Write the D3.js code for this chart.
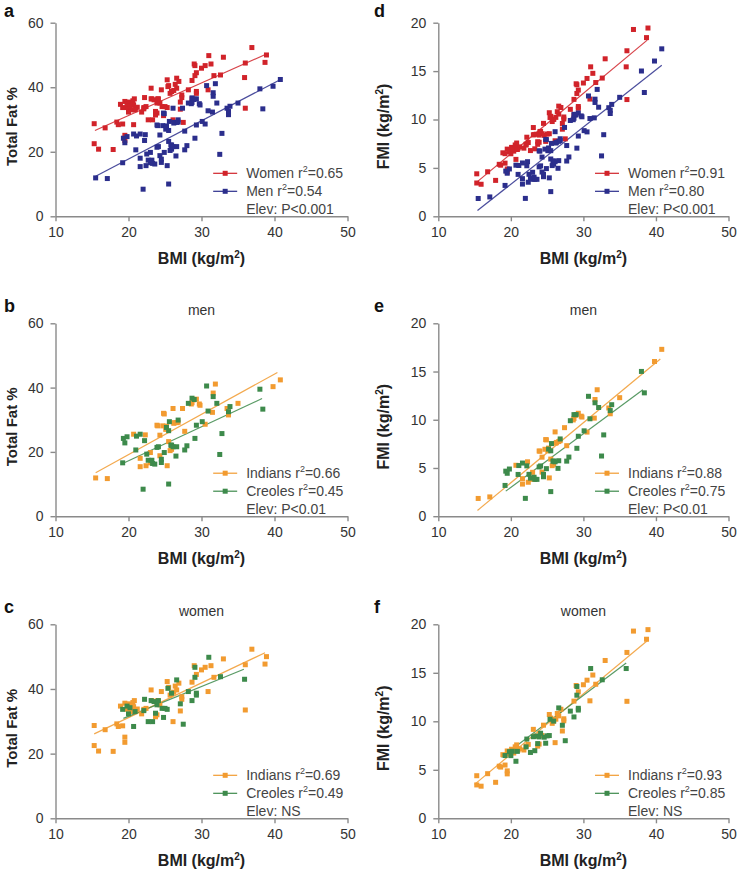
<!DOCTYPE html>
<html>
<head>
<meta charset="utf-8">
<script src="https://cdn.jsdelivr.net/npm/d3@7"></script>
<style>
body { margin: 0; background: #fff; }
text { font-family: "Liberation Sans", Arial, sans-serif; }
</style>
</head>
<body>
<svg id="chart" width="738" height="874"></svg>
<script>
// men, Indians
var menIndBMI = [15.5,17.1,20.7,21.6,21.6,22.3,22.4,23.0,23.0,23.9,24.0,24.3,24.3,24.7,24.8,24.9,25.1,25.2,25.3,25.5,25.7,25.9,26.1,26.2,26.3,26.6,26.8,27.4,27.7,28.6,28.7,28.9,29.3,29.7,29.8,30.5,31.5,31.6,31.9,33.5,33.7,35.0,39.8,40.8];
var menIndFat = [11.9,11.7,25.5,18.0,15.4,25.3,15.7,16.6,19.8,28.3,28.1,25.2,18.8,28.1,32.0,31.8,27.0,28.0,15.7,23.2,20.4,20.8,33.5,28.9,29.1,29.1,29.2,33.5,26.4,34.9,35.3,36.2,36.4,34.9,34.5,28.6,32.3,38.3,41.1,33.5,31.5,35.1,40.3,42.4];
var menIndFMI = [1.84,2.00,5.28,3.89,3.33,5.64,3.52,3.82,4.55,6.76,6.74,6.12,4.57,6.94,7.94,7.92,6.78,7.06,3.97,5.92,5.24,5.39,8.74,7.57,7.65,7.74,7.83,9.18,7.31,9.98,10.13,10.46,10.67,10.37,10.28,8.72,10.17,12.10,13.11,11.22,10.62,12.29,16.04,17.30];
// men, Creoles
var menCreBMI = [19.2,19.3,19.5,19.8,21.0,21.1,21.6,22.0,22.2,22.5,22.7,23.2,23.3,23.6,23.9,24.1,24.5,24.5,24.9,25.2,25.5,25.5,25.6,25.8,25.9,26.1,26.5,26.6,26.8,27.7,28.0,28.2,28.7,29.0,29.1,29.3,30.1,30.7,30.9,31.6,32.1,32.8,32.5,33.7,33.9,38.0,38.4];
var menCreFat = [16.6,24.2,22.8,24.7,20.6,24.9,25.5,8.4,23.5,19.3,17.4,17.4,16.4,16.2,21.4,21.6,16.7,17.7,19.8,27.6,26.6,10.0,29.4,22.1,22.1,21.6,18.7,21.6,29.9,20.6,21.9,35.1,36.7,36.3,24.2,28.3,29.4,40.5,32.7,37.2,35.1,25.7,19.2,32.5,34.1,39.5,33.3];
var menCreFMI = [3.19,4.67,4.45,4.89,4.33,5.25,5.51,1.85,5.22,4.34,3.95,4.04,3.82,3.82,5.11,5.21,4.09,4.34,4.93,6.96,6.78,2.55,7.53,5.70,5.72,5.64,4.96,5.75,8.01,5.71,6.13,9.90,10.53,10.53,7.04,8.29,8.85,12.43,10.10,11.76,11.27,8.43,6.24,10.95,11.56,15.01,12.79];
// women, Indians
var womIndBMI = [15.3,15.3,15.9,16.8,17.9,18.4,18.6,18.9,19.2,19.5,19.5,19.5,19.8,20.1,20.4,20.6,20.7,20.8,21.0,21.2,21.8,22.1,22.4,23.1,23.2,23.7,23.9,24.0,24.3,24.5,25.3,25.5,25.7,25.9,26.1,26.2,26.4,26.6,26.9,27.1,27.3,27.3,28.7,29.0,29.3,30.0,30.5,30.9,31.3,31.7,33.0,36.0,36.0,36.9,38.7,38.9];
var womIndFat = [28.7,22.5,20.8,27.4,20.7,29.2,28.4,34.7,28.6,25.1,23.5,35.6,33.7,35.4,33.0,35.8,34.5,36.4,33.5,33.8,32.3,33.7,34.0,39.7,36.4,31.4,32.0,36.4,35.1,39.2,42.3,40.5,38.1,38.7,29.9,39.0,40.9,39.7,41.8,33.2,37.6,36.8,42.1,47.2,44.5,45.9,46.7,39.2,47.2,43.6,49.3,47.5,33.5,52.3,47.7,50.0];
var womIndFMI = [4.39,3.44,3.31,4.60,3.71,5.37,5.28,6.56,5.49,4.89,4.58,6.94,6.67,7.12,6.73,7.37,7.14,7.57,7.04,7.17,7.04,7.45,7.62,9.17,8.44,7.44,7.65,8.74,8.53,9.60,10.70,10.33,9.79,10.02,7.80,10.22,10.80,10.56,11.24,9.00,10.26,10.05,12.08,13.69,13.04,13.77,14.24,12.11,14.77,13.82,16.27,17.10,12.06,19.30,18.46,19.45];
// women, Creoles
var womCreBMI = [19.2,19.8,20.0,20.2,20.7,20.9,22.1,22.2,22.7,23.1,23.3,23.5,23.7,23.9,24.1,24.6,24.8,25.0,25.3,25.4,25.9,26.6,27.1,27.5,28.2,28.7,29.1,29.1,29.3,29.3,31.0,32.6,35.9];
var womCreFat = [33.7,34.7,32.3,34.2,28.4,33.0,33.3,36.8,29.9,36.4,29.9,36.1,32.5,35.1,36.4,34.0,31.2,34.0,33.7,40.2,38.7,42.8,35.4,29.1,39.2,36.4,46.7,43.6,38.7,38.1,49.8,43.8,43.0];
var womCreFMI = [6.47,6.87,6.46,6.91,5.88,6.90,7.36,8.17,6.79,8.41,6.97,8.48,7.70,8.39,8.77,8.36,7.74,8.50,8.53,10.21,10.02,11.38,9.59,8.00,11.05,10.45,13.59,12.69,11.34,11.16,15.44,14.28,15.44];

// fitted lines [x1, y1, x2, y2]
var fitA = [[15.4,26.6,38.9,50.3],[15.5,12.4,40.9,42.5]];
var fitB = [[15.5,13.5,40.4,44.7],[19.2,16.4,38.3,36.6]];
var fitC = [[15.3,26.1,38.7,51.2],[19.3,30.9,35.8,46.1]];
var fitD = [[15.1,3.4,38.8,18.2],[15.4,0.6,40.8,15.6]];
var fitE = [[15.4,0.6,40.6,16.3],[19.3,2.6,38.2,13.1]];
var fitF = [[15.0,3.5,38.8,18.3],[18.7,6.3,35.9,16.0]];

var bmiTicks = [10,20,30,40,50];
var fatTicks = [0,20,40,60];
var fmiTicks = [0,5,10,15,20];

var legA = [["Women r","0.65"],["Men r","0.54"]];
var legB = [["Indians r","0.66"],["Creoles r","0.45"]];
var legC = [["Indians r","0.69"],["Creoles r","0.49"]];
var legD = [["Women r","0.91"],["Men r","0.80"]];
var legE = [["Indians r","0.88"],["Creoles r","0.75"]];
var legF = [["Indians r","0.93"],["Creoles r","0.85"]];

var red = "#d1232a", blue = "#2b2e8c", orange = "#f29b30", green = "#3d8a4b";

var svg = d3.select("#chart");
svg.append("rect").attr("width", 738).attr("height", 874).attr("fill", "#fff");

function pts(bmi, y) {
    return bmi.map(function(b, i) { return [b, y[i]]; });
}

function panel(o) {
    var x = d3.scaleLinear().domain([10, 50]).range([o.x0, o.x1]);
    var y = d3.scaleLinear().domain([0, o.ymax]).range([o.y1, o.y0]);
    var g = svg.append("g");

    var ax = g.append("g").attr("transform", "translate(0," + o.y1 + ")")
        .call(d3.axisBottom(x).tickValues(bmiTicks).tickSize(5).tickSizeOuter(0).tickPadding(6));
    var ay = g.append("g").attr("transform", "translate(" + o.x0 + ",0)")
        .call(d3.axisLeft(y).tickValues(o.ticks).tickSize(5).tickSizeOuter(0).tickPadding(7));
    [ax, ay].forEach(function(a) {
        a.selectAll("path, line").attr("stroke", "#8a8a8a").attr("stroke-width", 1.4);
        a.selectAll("text").attr("fill", "#333").style("font-size", "14px")
            .style("font-family", "'Liberation Sans', Arial, sans-serif");
    });

    // panel letter
    g.append("text").attr("x", o.lx).attr("y", o.ly).text(o.letter)
        .style("font-size", "18px").style("font-weight", "bold").attr("fill", "#111");
    if (o.sub) {
        g.append("text").attr("x", (o.x0 + o.x1) / 2).attr("y", o.y0 - 8)
            .attr("text-anchor", "middle").style("font-size", "14px").attr("fill", "#333").text(o.sub);
    }

    // x title
    var xt = g.append("text").attr("x", (o.x0 + o.x1) / 2).attr("y", o.y1 + 48)
        .attr("text-anchor", "middle").style("font-size", "16px").style("font-weight", "bold").attr("fill", "#222");
    xt.append("tspan").text("BMI (kg/m");
    xt.append("tspan").text("2").attr("dy", -6).style("font-size", "10px");
    xt.append("tspan").text(")").attr("dy", 6);

    // y title
    var yt = g.append("text")
        .attr("transform", "translate(" + (o.x0 - o.tOff) + "," + ((o.y0 + o.y1) / 2 + 7) + ") rotate(-90)")
        .attr("text-anchor", "middle").style("font-weight", "bold").attr("fill", "#222");
    if (o.fmi) {
        yt.style("font-size", "16px");
        yt.append("tspan").text("FMI (kg/m");
        yt.append("tspan").text("2").attr("dy", -6).style("font-size", "10px");
        yt.append("tspan").text(")").attr("dy", 6);
    } else {
        yt.style("font-size", "15px").text("Total Fat %");
    }

    // series
    o.series.forEach(function(s, k) {
        var f = o.fits[k];
        g.append("line")
            .attr("x1", x(f[0])).attr("y1", y(f[1])).attr("x2", x(f[2])).attr("y2", y(f[3]))
            .attr("stroke", s.color).attr("stroke-width", 1.2).attr("opacity", 0.85);
    });
    o.series.forEach(function(s) {
        g.selectAll(null).data(s.data).enter().append("rect")
            .attr("x", function(d) { return x(d[0]) - 2.5; })
            .attr("y", function(d) { return y(d[1]) - 2.5; })
            .attr("width", 5).attr("height", 5)
            .attr("fill", s.color);
    });

    // legend
    var lx = o.x0 + (o.x1 - o.x0) * 0.54;
    var ly = o.y1 - 43;
    o.series.forEach(function(s, k) {
        var yy = ly + k * 18;
        g.append("line").attr("x1", lx).attr("x2", lx + 24).attr("y1", yy).attr("y2", yy)
            .attr("stroke", s.color).attr("stroke-width", 1.2);
        g.append("rect").attr("x", lx + 9.5).attr("y", yy - 2.5).attr("width", 5).attr("height", 5).attr("fill", s.color);
        var t = g.append("text").attr("x", lx + 33).attr("y", yy + 5)
            .style("font-size", "14px").attr("fill", "#444");
        t.append("tspan").text(o.legend[k][0]);
        t.append("tspan").text("2").attr("dy", -6).style("font-size", "9px");
        t.append("tspan").text("=" + o.legend[k][1]).attr("dy", 6);
    });
    g.append("text").attr("x", lx + 33).attr("y", ly + 41)
        .style("font-size", "14px").attr("fill", "#444").text(o.elev);
}

var L = [55.5, 347.5], R = [438.3, 728.5];
var rows = [[22.7, 216.3], [323.3, 516.2], [624.3, 818.3]];

panel({ x0: L[0], x1: L[1], y0: rows[0][0], y1: rows[0][1], ymax: 60, ticks: fatTicks, tOff: 38.5, letter: "a", lx: 4, ly: 17,
    series: [{ color: red, data: pts(womIndBMI.concat(womCreBMI), womIndFat.concat(womCreFat)) },
             { color: blue, data: pts(menIndBMI.concat(menCreBMI), menIndFat.concat(menCreFat)) }],
    fits: fitA, legend: legA, elev: "Elev: P<0.001" });
panel({ x0: L[0], x1: L[1], y0: rows[1][0], y1: rows[1][1], ymax: 60, ticks: fatTicks, tOff: 38.5, letter: "b", lx: 4, ly: 312, sub: "men",
    series: [{ color: orange, data: pts(menIndBMI, menIndFat) }, { color: green, data: pts(menCreBMI, menCreFat) }],
    fits: fitB, legend: legB, elev: "Elev: P<0.01" });
panel({ x0: L[0], x1: L[1], y0: rows[2][0], y1: rows[2][1], ymax: 60, ticks: fatTicks, tOff: 38.5, letter: "c", lx: 4, ly: 613, sub: "women",
    series: [{ color: orange, data: pts(womIndBMI, womIndFat) }, { color: green, data: pts(womCreBMI, womCreFat) }],
    fits: fitC, legend: legC, elev: "Elev: NS" });
panel({ x0: R[0], x1: R[1], y0: rows[0][0], y1: rows[0][1], ymax: 20, ticks: fmiTicks, tOff: 49, fmi: true, letter: "d", lx: 374, ly: 17,
    series: [{ color: red, data: pts(womIndBMI.concat(womCreBMI), womIndFMI.concat(womCreFMI)) },
             { color: blue, data: pts(menIndBMI.concat(menCreBMI), menIndFMI.concat(menCreFMI)) }],
    fits: fitD, legend: legD, elev: "Elev: P<0.001" });
panel({ x0: R[0], x1: R[1], y0: rows[1][0], y1: rows[1][1], ymax: 20, ticks: fmiTicks, tOff: 49, fmi: true, letter: "e", lx: 374, ly: 312, sub: "men",
    series: [{ color: orange, data: pts(menIndBMI, menIndFMI) }, { color: green, data: pts(menCreBMI, menCreFMI) }],
    fits: fitE, legend: legE, elev: "Elev: P<0.01" });
panel({ x0: R[0], x1: R[1], y0: rows[2][0], y1: rows[2][1], ymax: 20, ticks: fmiTicks, tOff: 49, fmi: true, letter: "f", lx: 374, ly: 613, sub: "women",
    series: [{ color: orange, data: pts(womIndBMI, womIndFMI) }, { color: green, data: pts(womCreBMI, womCreFMI) }],
    fits: fitF, legend: legF, elev: "Elev: NS" });
</script>
</body>
</html>
